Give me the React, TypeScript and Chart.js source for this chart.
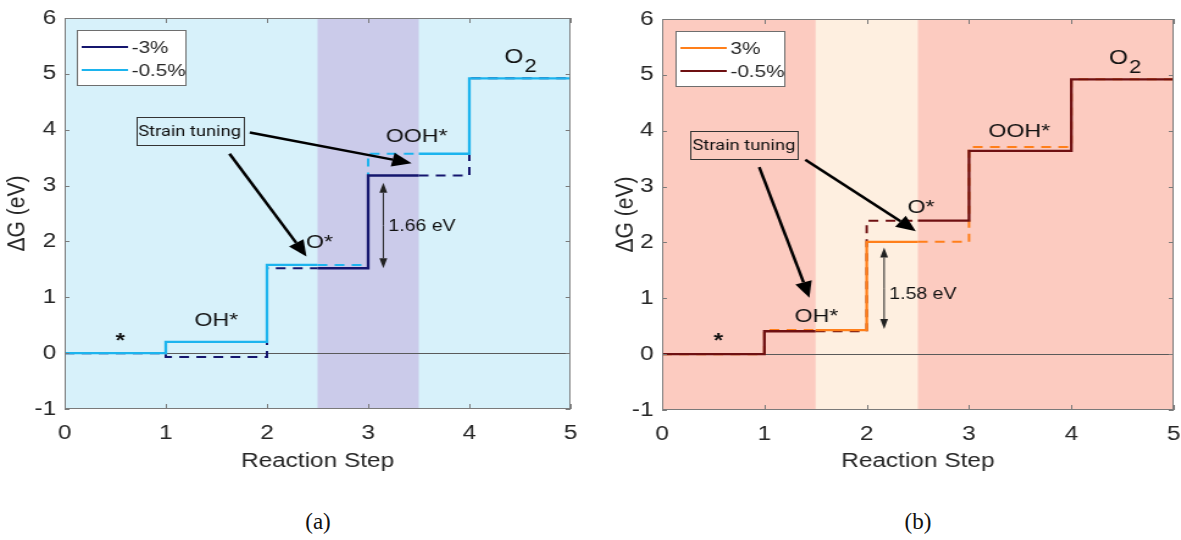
import React, { useEffect, useRef } from 'react';
import { Chart, registerables } from 'chart.js';

Chart.register(...registerables);

// ---------- data ----------
const stepPositions = [0, 1, 2, 3, 4, 5];
const xTickValues = [0, 1, 2, 3, 4, 5];
const yTickValues = [-1, 0, 1, 2, 3, 4, 5, 6];
const stateLabels = ['*', 'OH*', 'O*', 'OOH*', 'O2'];

// panel (a)
const leftLabels = ['-3%', '-0.5%'];
const leftMinus3 = [0, -0.07, 1.52, 3.18, 4.92];
const leftMinus05 = [0, 0.2, 1.58, 3.57, 4.92];
const leftBand = [2.5, 3.5];
const leftGapText = '1.66 eV';

// panel (b)
const rightLabels = ['3%', '-0.5%'];
const rightPlus3 = [0, 0.43, 2.01, 3.71, 4.92];
const rightMinus05 = [0, 0.41, 2.39, 3.64, 4.92];
const rightBand = [1.5, 2.5];
const rightGapText = '1.58 eV';

const FONT = "'Liberation Sans', Arial, Helvetica, sans-serif";
const TXT = '#262626';
const CANVAS_W = 484; // drawn narrower, then stretched horizontally like the source figure
const CANVAS_H = 480;

type Series = { label: string; levels: number[]; color: string; solidInBand: boolean };

function stepPoints(levels: number[], band: number[]) {
  const xs = Array.from(new Set([...stepPositions, ...band])).sort((a, b) => a - b);
  return xs.map((x) => ({ x, y: levels[Math.min(Math.floor(x), levels.length - 1)] }));
}

function inBand(ctx: any, band: number[]) {
  const m = (ctx.p0.parsed.x + ctx.p1.parsed.x) / 2;
  return m > band[0] && m < band[1];
}

function makeDatasets(series: Series[], band: number[]) {
  const ds: any[] = [];
  const clear = 'rgba(0,0,0,0)';
  series.forEach((s) => {
    const pts = stepPoints(s.levels, band);
    const solidHere = (ctx: any) => inBand(ctx, band) === s.solidInBand;
    ds.push({
      label: s.label,
      data: pts,
      borderColor: s.color,
      borderWidth: 2.3,
      stepped: 'before',
      pointRadius: 0,
      fill: false,
      order: 0,
      segment: { borderColor: (ctx: any) => (solidHere(ctx) ? s.color : clear) },
    });
    ds.push({
      label: s.label + ' dashed',
      data: pts,
      borderColor: s.color,
      borderWidth: 2,
      borderDash: [8, 6],
      stepped: 'before',
      pointRadius: 0,
      fill: false,
      order: 1,
      segment: { borderColor: (ctx: any) => (solidHere(ctx) ? clear : s.color) },
    });
  });
  return ds;
}

type PanelCfg = {
  series: Series[];
  band: number[];
  bg: string;
  bandColor: string;
  padRight: number;
  padTop: number;
  yWidth: number;
  xHeight: number;
  yTitlePad: number;
  legendOffset: number;
  labelPos: number[][];
  box: number[];
  arrows: number[][];
  gapArrow: number[];
  gapText: string;
  gapTextPos: number[];
};

function drawArrow(ctx: CanvasRenderingContext2D, x1: number, y1: number, x2: number, y2: number, lw: number, hl: number, hw: number) {
  const ang = Math.atan2(y2 - y1, x2 - x1);
  const bx = x2 - hl * Math.cos(ang);
  const by = y2 - hl * Math.sin(ang);
  ctx.lineWidth = lw;
  ctx.beginPath();
  ctx.moveTo(x1, y1);
  ctx.lineTo(bx, by);
  ctx.stroke();
  ctx.beginPath();
  ctx.moveTo(x2, y2);
  ctx.lineTo(bx + hw * Math.sin(ang), by - hw * Math.cos(ang));
  ctx.lineTo(bx - hw * Math.sin(ang), by + hw * Math.cos(ang));
  ctx.closePath();
  ctx.fill();
}

function decorPlugin(cfg: PanelCfg) {
  return {
    id: 'decor',
    beforeDatasetsDraw(chart: any) {
      const { ctx, chartArea: a, scales } = chart;
      const x = scales.x, y = scales.y;
      ctx.save();
      ctx.fillStyle = cfg.bg;
      ctx.fillRect(a.left, a.top, a.right - a.left, a.bottom - a.top);
      const b0 = x.getPixelForValue(cfg.band[0]);
      const b1 = x.getPixelForValue(cfg.band[1]);
      ctx.fillStyle = cfg.bandColor;
      ctx.fillRect(b0, a.top, b1 - b0, a.bottom - a.top);
      const y0 = Math.round(y.getPixelForValue(0)) + 0.5;
      ctx.strokeStyle = '#5a5a5a';
      ctx.lineWidth = 1;
      ctx.beginPath();
      ctx.moveTo(a.left, y0);
      ctx.lineTo(a.right, y0);
      ctx.stroke();
      ctx.restore();
    },
    afterDatasetsDraw(chart: any) {
      const { ctx, chartArea: a, scales } = chart;
      const x = scales.x, y = scales.y;
      const px = (v: number) => x.getPixelForValue(v);
      const py = (v: number) => y.getPixelForValue(v);
      ctx.save();
      // frame
      ctx.strokeStyle = '#7a7a7a';
      ctx.lineWidth = 1;
      ctx.strokeRect(Math.round(a.left) + 0.5, Math.round(a.top) + 0.5, Math.round(a.right - a.left) - 1, Math.round(a.bottom - a.top) - 1);
      // inward ticks
      ctx.beginPath();
      xTickValues.forEach((v) => {
        const p = Math.round(px(v)) + 0.5;
        ctx.moveTo(p, a.bottom); ctx.lineTo(p, a.bottom - 5);
        ctx.moveTo(p, a.top); ctx.lineTo(p, a.top + 5);
      });
      yTickValues.forEach((v) => {
        const p = Math.round(py(v)) + 0.5;
        ctx.moveTo(a.left, p); ctx.lineTo(a.left + 4, p);
        ctx.moveTo(a.right, p); ctx.lineTo(a.right - 4, p);
      });
      ctx.stroke();

      // legend
      const lx = Math.round(a.left + cfg.legendOffset);
      const ly = Math.round(a.top + 12);
      ctx.fillStyle = '#ffffff';
      ctx.fillRect(lx, ly, 89, 55);
      ctx.strokeStyle = '#6e6e6e';
      ctx.strokeRect(lx + 0.5, ly + 0.5, 89, 55);
      const legendSets = chart.data.datasets.filter((d: any) => !String(d.label).endsWith(' dashed'));
      ctx.font = `17px ${FONT}`;
      ctx.textBaseline = 'middle';
      ctx.textAlign = 'left';
      legendSets.forEach((d: any, i: number) => {
        const yy = ly + 17 + i * 23;
        ctx.strokeStyle = d.borderColor;
        ctx.lineWidth = 2;
        ctx.beginPath();
        ctx.moveTo(lx + 4, yy);
        ctx.lineTo(lx + 42, yy);
        ctx.stroke();
        ctx.fillStyle = TXT;
        ctx.fillText(d.label, lx + 45, yy + 1);
      });

      // state labels
      ctx.fillStyle = '#111';
      ctx.textAlign = 'center';
      ctx.textBaseline = 'middle';
      stateLabels.forEach((lab, i) => {
        const [dx, dy] = cfg.labelPos[i];
        const cx = px(dx), cy = py(dy);
        if (lab === 'O2') {
          ctx.font = `20px ${FONT}`;
          ctx.fillText('O', cx, cy);
          const w = ctx.measureText('O').width;
          ctx.font = `18px ${FONT}`;
          ctx.textAlign = 'left';
          ctx.fillText('2', cx + w / 2 + 1, cy + 10);
          ctx.textAlign = 'center';
        } else if (lab === '*') {
          ctx.font = `bold 20px ${FONT}`;
          ctx.fillText(lab, cx, cy + 3);
        } else {
          ctx.font = `19px ${FONT}`;
          ctx.fillText(lab, cx, cy);
        }
      });

      // strain tuning box
      ctx.font = `15px Roboto, 'Noto Sans', sans-serif`;
      const bw = 88, bh = 28;
      const bcx = px(cfg.box[0]), bcy = py(cfg.box[1]);
      ctx.strokeStyle = '#333';
      ctx.lineWidth = 1;
      ctx.strokeRect(Math.round(bcx - bw / 2) + 0.5, Math.round(bcy - bh / 2) + 0.5, bw, bh);
      ctx.fillStyle = '#111';
      ctx.fillText('Strain tuning', bcx, bcy + 1);

      // arrows
      ctx.strokeStyle = '#000';
      ctx.fillStyle = '#000';
      cfg.arrows.forEach(([x1, y1, x2, y2]) => {
        drawArrow(ctx, px(x1), py(y1), px(x2), py(y2), 2.5, 16, 7);
      });
      // gap double arrow
      const gx = px(cfg.gapArrow[0]);
      const gt = py(cfg.gapArrow[1]);
      const gb = py(cfg.gapArrow[2]);
      ctx.strokeStyle = '#222';
      ctx.fillStyle = '#222';
      const mid = (gt + gb) / 2;
      drawArrow(ctx, gx, mid, gx, gt, 1, 10, 3.2);
      drawArrow(ctx, gx, mid, gx, gb, 1, 10, 3.2);
      ctx.font = `16px ${FONT}`;
      ctx.textAlign = 'left';
      ctx.fillStyle = '#111';
      ctx.fillText(cfg.gapText, px(cfg.gapTextPos[0]), py(cfg.gapTextPos[1]));
      ctx.restore();
    },
  };
}

function ChartPanel({ cfg, left, width }: { cfg: PanelCfg; left: number; width: number }) {
  const ref = useRef<HTMLCanvasElement | null>(null);
  useEffect(() => {
    if (!ref.current) return;
    const chart = new Chart(ref.current, {
      type: 'line',
      data: { datasets: makeDatasets(cfg.series, cfg.band) },
      plugins: [decorPlugin(cfg)],
      options: {
        animation: false,
        responsive: false,
        maintainAspectRatio: false,
        devicePixelRatio: 1,
        layout: { padding: { left: 0, top: cfg.padTop, right: cfg.padRight, bottom: 0 } },
        plugins: { legend: { display: false }, tooltip: { enabled: false } },
        scales: {
          x: {
            type: 'linear',
            min: 0,
            max: 5,
            grid: { display: false, drawTicks: false },
            border: { display: false },
            afterBuildTicks: (s: any) => { s.ticks = xTickValues.map((v) => ({ value: v })); },
            afterFit: (s: any) => { s.height = cfg.xHeight; s.paddingLeft = 0; s.paddingRight = 0; },
            ticks: { color: TXT, font: { family: FONT, size: 20 }, padding: 12, maxRotation: 0 },
            title: { display: true, text: 'Reaction Step', color: TXT, font: { family: FONT, size: 20 }, padding: { top: 0, bottom: 7 } },
          },
          y: {
            type: 'linear',
            min: -1,
            max: 6,
            grid: { display: false, drawTicks: false },
            border: { display: false },
            afterBuildTicks: (s: any) => { s.ticks = yTickValues.map((v) => ({ value: v })); },
            afterFit: (s: any) => { s.width = cfg.yWidth; s.paddingTop = 0; s.paddingBottom = 0; },
            ticks: { color: TXT, font: { family: FONT, size: 20 }, padding: 7 },
            title: { display: true, text: 'ΔG (eV)', color: TXT, font: { family: FONT, size: 21 }, padding: { top: cfg.yTitlePad, bottom: 0 } },
          },
        },
      } as any,
    });
    return () => chart.destroy();
  }, []);
  return (
    <canvas
      ref={ref}
      width={CANVAS_W}
      height={CANVAS_H}
      style={{ position: 'absolute', left, top: 0, width, height: CANVAS_H }}
    />
  );
}

const leftCfg: PanelCfg = {
  series: [
    { label: leftLabels[0], levels: leftMinus3, color: '#15166e', solidInBand: true },
    { label: leftLabels[1], levels: leftMinus05, color: '#1cb4ee', solidInBand: false },
  ],
  band: leftBand,
  bg: '#d7f1fa',
  bandColor: '#cbcbea',
  padRight: 16,
  padTop: 18,
  yWidth: 53,
  xHeight: 71,
  yTitlePad: 2,
  legendOffset: 10,
  labelPos: [[0.55, 0.27], [1.5, 0.58], [2.52, 1.97], [3.48, 3.87], [4.44, 5.3]],
  box: [1.235, 3.98],
  arrows: [[1.83, 3.95, 3.43, 3.4], [1.63, 3.57, 2.39, 1.73]],
  gapArrow: [3.15, 3.05, 1.52],
  gapText: leftGapText,
  gapTextPos: [3.2, 2.26],
};

const rightCfg: PanelCfg = {
  series: [
    { label: rightLabels[0], levels: rightPlus3, color: '#ff7f1a', solidInBand: true },
    { label: rightLabels[1], levels: rightMinus05, color: '#6e1012', solidInBand: false },
  ],
  band: rightBand,
  bg: '#fccbc0',
  bandColor: '#feefe0',
  padRight: 6,
  padTop: 19,
  yWidth: 59,
  xHeight: 70,
  yTitlePad: 17,
  legendOffset: 11,
  labelPos: [[0.55, 0.28], [1.51, 0.67], [2.53, 2.62], [3.49, 3.98], [4.46, 5.3]],
  box: [0.8, 3.74],
  arrows: [[0.95, 3.35, 1.44, 1.01], [1.4, 3.48, 2.48, 2.2]],
  gapArrow: [2.17, 1.91, 0.45],
  gapText: rightGapText,
  gapTextPos: [2.22, 1.07],
};

export default function App() {
  const caption: React.CSSProperties = {
    position: 'absolute',
    top: 507,
    width: 100,
    textAlign: 'center',
    fontFamily: "'Liberation Serif', 'Times New Roman', serif",
    fontSize: 23,
    color: '#111',
    lineHeight: '30px',
  };
  return (
    <div style={{ position: 'fixed', left: 0, top: 0, width: 1181, height: 540, background: '#fff', overflow: 'hidden' }}>
      <ChartPanel cfg={leftCfg} left={0} width={590} />
      <ChartPanel cfg={rightCfg} left={590} width={591} />
      <div style={{ ...caption, left: 268 }}>(a)</div>
      <div style={{ ...caption, left: 868 }}>(b)</div>
    </div>
  );
}
